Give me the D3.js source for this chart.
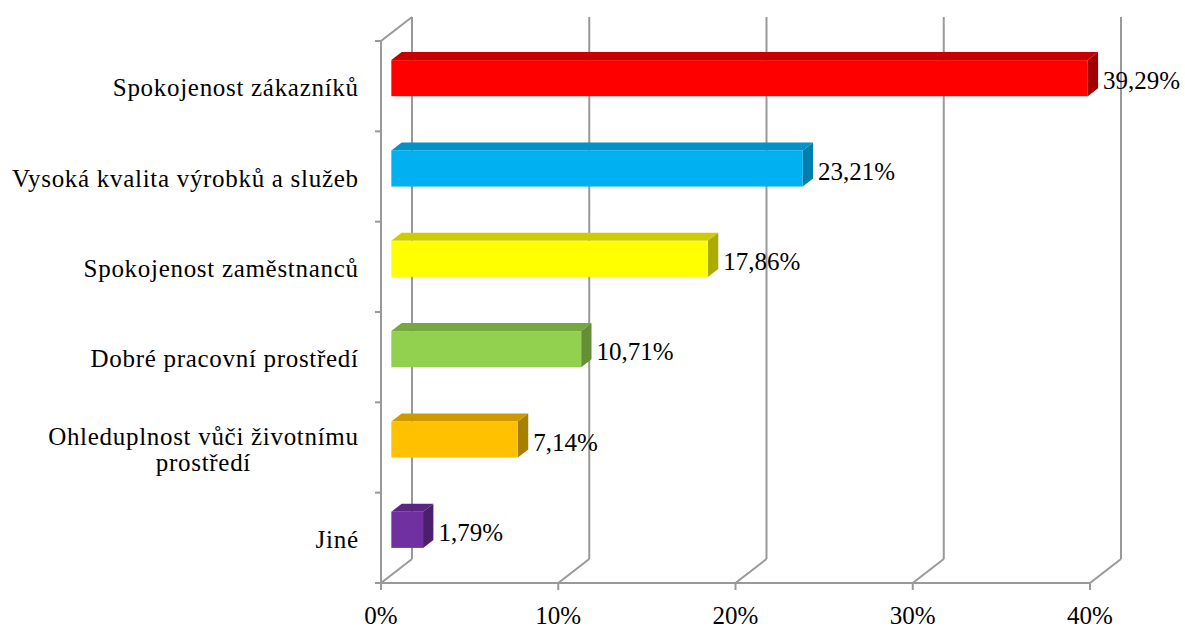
<!DOCTYPE html>
<html>
<head>
<meta charset="utf-8">
<script src="https://cdn.jsdelivr.net/npm/d3@7"></script>
</head>
<body style="margin:0">
<svg id="chart" width="1185" height="628" style="font-family: 'Liberation Serif'"></svg>
<script>
// Survey results: share of answers per category (percent)
const categories = [
  "Spokojenost zákazníků",
  "Vysoká kvalita výrobků a služeb",
  "Spokojenost zaměstnanců",
  "Dobré pracovní prostředí",
  "Ohleduplnost vůči životnímu prostředí",
  "Jiné"
];
const values = [39.29, 23.21, 17.86, 10.71, 7.14, 1.79];
const tickValues = [0, 10, 20, 30, 40];

// Face colours of the 3D bars
const frontColors = ["#FF0000", "#00B0F0", "#FFFF00", "#92D050", "#FFC000", "#7030A0"];
const topColors   = ["#C40000", "#0092C8", "#CCCC00", "#76A840", "#CC9A00", "#5A2682"];
const sideColors  = ["#A20000", "#007FAE", "#ABAB00", "#648F36", "#A88000", "#4B1F6C"];

const svg = d3.select("#chart");
const labelFont = "Liberation Serif";
const labelSize = 25;
const gridColor = "#999999";

// Front plane of the plot and the depth offset of the back wall
const plotLeft = 381, plotRight = 1090, plotTop = 41, plotBottom = 583;
const depth = { dx: 31, dy: -24 };

const x = d3.scaleLinear().domain([0, 40]).range([plotLeft, plotRight]);
const y = d3.scaleBand().domain(categories).range([plotTop, plotBottom])
  .paddingInner(0.6).paddingOuter(0.3);
const step = y.step();

const locale = d3.formatLocale({ decimal: ",", thousands: " ", grouping: [3], currency: ["", ""] });
const valueFmt = v => locale.format(".2f")(v) + "%";
const tickFmt = v => locale.format("d")(v) + "%";

const grid = svg.append("g")
  .attr("stroke", gridColor).attr("stroke-width", 2).attr("fill", "none");

// Back wall verticals and floor diagonals for each tick
tickValues.forEach(v => {
  const fx = x(v);
  grid.append("line")
    .attr("x1", fx + depth.dx).attr("y1", plotTop + depth.dy)
    .attr("x2", fx + depth.dx).attr("y2", plotBottom + depth.dy);
  grid.append("line")
    .attr("x1", fx).attr("y1", plotBottom)
    .attr("x2", fx + depth.dx).attr("y2", plotBottom + depth.dy);
  grid.append("line")
    .attr("x1", fx).attr("y1", plotBottom)
    .attr("x2", fx).attr("y2", plotBottom + 7);
});

// Left wall: front edge and top diagonal
grid.append("line").attr("x1", plotLeft).attr("y1", plotTop).attr("x2", plotLeft).attr("y2", plotBottom);
grid.append("line").attr("x1", plotLeft).attr("y1", plotTop)
  .attr("x2", plotLeft + depth.dx).attr("y2", plotTop + depth.dy);
// Floor front edge
grid.append("line").attr("x1", plotLeft).attr("y1", plotBottom).attr("x2", plotRight).attr("y2", plotBottom);
// Category tick marks on the left edge
d3.range(categories.length + 1).forEach(k => {
  const ty = plotTop + k * step;
  grid.append("line").attr("x1", plotLeft - 6).attr("y1", ty).attr("x2", plotLeft).attr("y2", ty);
});

// Shared text styling
function styleText(sel) {
  sel.attr("font-family", labelFont)
    .style("font-family", "'Liberation Serif'")
    .attr("font-size", labelSize)
    .attr("fill", "#000");
}

// Bars sit in the middle third of the depth
const ox = depth.dx / 3, oy = depth.dy / 3;
const bars = svg.append("g").selectAll("g")
  .data(categories.map((c, i) => ({ c, v: values[i], i })))
  .join("g");

bars.each(function(d) {
  const g = d3.select(this);
  const xa = x(0) + ox, xb = x(d.v) + ox;
  const ya = y(d.c) + oy, yb = ya + y.bandwidth();
  const pts = p => p.map(q => q.join(",")).join(" ");
  g.append("polygon")
    .attr("points", pts([[xa, ya], [xb, ya], [xb + ox, ya + oy], [xa + ox, ya + oy]]))
    .attr("fill", topColors[d.i]);
  g.append("polygon")
    .attr("points", pts([[xb, ya], [xb + ox, ya + oy], [xb + ox, yb + oy], [xb, yb]]))
    .attr("fill", sideColors[d.i]);
  g.append("rect")
    .attr("x", xa).attr("y", ya)
    .attr("width", xb - xa).attr("height", yb - ya)
    .attr("fill", frontColors[d.i]);
  // Value label to the right of the bar (baseline placed below the bar centre)
  const t = g.append("text")
    .attr("x", xb + ox + 5)
    .attr("y", ya + y.bandwidth() / 2 + 11)
    .text(valueFmt(d.v));
  styleText(t);
});

// Category labels, wrapping the long one onto two centred lines
const labelRight = 358.7;
const labelSpacing = 0.7;
const wrapped = { "Ohleduplnost vůči životnímu prostředí": ["Ohleduplnost vůči životnímu", "prostředí"] };
categories.forEach(c => {
  const cy = y(c) - step * y.paddingInner() / 2 + step / 2 + 10;
  const lines = wrapped[c];
  if (!lines) {
    const t = svg.append("text")
      .attr("x", labelRight).attr("y", cy)
      .attr("text-anchor", "end")
      .attr("letter-spacing", labelSpacing)
      .text(c);
    styleText(t);
  } else {
    const probe = svg.append("text").attr("letter-spacing", labelSpacing).text(lines[0]);
    styleText(probe);
    const w = probe.node().getComputedTextLength();
    probe.remove();
    const center = labelRight - w / 2;
    const lh = 26;
    lines.forEach((ln, k) => {
      const t = svg.append("text")
        .attr("x", center).attr("y", cy + (k - (lines.length - 1) / 2) * lh)
        .attr("text-anchor", "middle")
        .attr("letter-spacing", labelSpacing)
        .text(ln);
      styleText(t);
    });
  }
});

// Percentage tick labels under the front edge
const ticks = svg.append("g").selectAll("text")
  .data(tickValues)
  .join("text")
  .attr("x", d => x(d))
  .attr("y", 624)
  .attr("text-anchor", "middle")
  .text(tickFmt);
styleText(ticks);
</script>
</body>
</html>
